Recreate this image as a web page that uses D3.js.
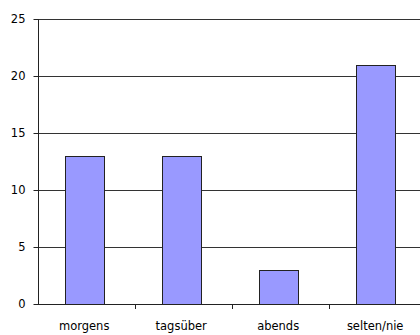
<!DOCTYPE html>
<html>
<head>
<meta charset="utf-8">
<script src="https://cdn.jsdelivr.net/npm/d3@7"></script>
<style>
  html, body { margin: 0; padding: 0; background: #fff; }
  svg { display: block; }
</style>
</head>
<body>
<svg id="chart" width="420" height="335"></svg>
<script>
const categories = ["morgens", "tagsüber", "abends", "selten/nie"];
const values = [13, 13, 3, 21];
const yTicks = [0, 5, 10, 15, 20, 25];

const svg = d3.select("#chart");
const margin = { left: 38, top: 19, right: -6, bottom: 31 };
const width = 420, height = 335;

const x = d3.scaleBand()
  .domain(categories)
  .range([margin.left, width - margin.right])
  .paddingInner(0.6)
  .paddingOuter(0.3)
  .align(0.46);

const y = d3.scaleLinear()
  .domain([0, 25])
  .range([height - margin.bottom, margin.top]);

const font = "DejaVu Sans, sans-serif";
const fontSize = 11.5;

// horizontal gridlines
svg.append("g")
  .selectAll("line")
  .data(yTicks.filter(d => d > 0))
  .join("line")
  .attr("x1", margin.left)
  .attr("x2", width)
  .attr("y1", d => Math.round(y(d)) + 0.5)
  .attr("y2", d => Math.round(y(d)) + 0.5)
  .attr("stroke", "#333")
  .attr("stroke-width", 1);

// bars
svg.append("g")
  .selectAll("rect")
  .data(values)
  .join("rect")
  .attr("x", (d, i) => Math.round(x(categories[i])) + 0.5)
  .attr("y", d => Math.round(y(d)) + 0.5)
  .attr("width", Math.round(x.bandwidth()))
  .attr("height", d => Math.round(y(0)) - Math.round(y(d)))
  .attr("fill", "#9999ff")
  .attr("stroke", "#222")
  .attr("stroke-width", 1);

// y axis
const yAxis = svg.append("g")
  .attr("transform", `translate(${margin.left + 0.5},0)`)
  .call(d3.axisLeft(y).tickValues(yTicks).tickSize(5).tickPadding(8).tickFormat(d3.format("d")));
yAxis.select(".domain").attr("stroke", "#222").attr("d", `M0,${y(25)}V${y(0)}`);
yAxis.selectAll(".tick line").attr("stroke", "#222");
yAxis.selectAll(".tick text").attr("font-family", font).attr("font-size", fontSize).attr("fill", "#000");

// x axis with tick marks on category boundaries
const step = x.step();
const boundaries = d3.range(1, categories.length + 1).map(i => margin.left + i * step);
const xAxisG = svg.append("g");
xAxisG.append("line")
  .attr("x1", margin.left)
  .attr("x2", width)
  .attr("y1", Math.round(y(0)) + 0.5)
  .attr("y2", Math.round(y(0)) + 0.5)
  .attr("stroke", "#222");
xAxisG.selectAll("line.tk")
  .data(boundaries)
  .join("line")
  .attr("class", "tk")
  .attr("x1", d => Math.round(d) + 0.5)
  .attr("x2", d => Math.round(d) + 0.5)
  .attr("y1", Math.round(y(0)))
  .attr("y2", Math.round(y(0)) + 5)
  .attr("stroke", "#222");
xAxisG.selectAll("text")
  .data(categories)
  .join("text")
  .attr("x", d => x(d) + x.bandwidth() / 2)
  .attr("y", 330)
  .attr("text-anchor", "middle")
  .attr("font-family", font)
  .attr("font-size", fontSize)
  .text(d => d);
</script>
</body>
</html>
